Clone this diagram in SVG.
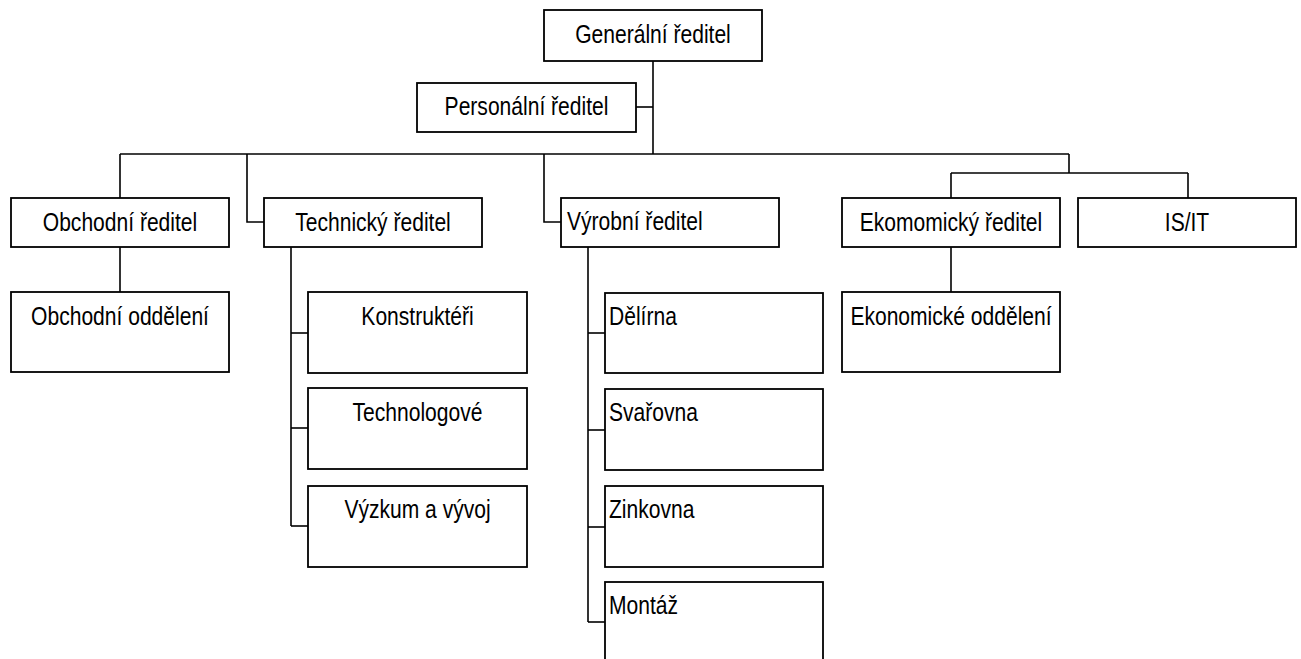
<svg xmlns="http://www.w3.org/2000/svg" width="1301" height="659" viewBox="0 0 1301 659">
  <style>
    .box { fill: #ffffff; stroke: #000000; stroke-width: 1.8; }
    .lbl { font-family: "Liberation Sans", Arial, sans-serif; font-size: 26px; fill: #000000; }
    .c { text-anchor: middle; }
    .l { text-anchor: start; }
    .wire { fill: none; stroke: #000000; stroke-width: 1.6; }
  </style>
  <rect width="1301" height="659" fill="#ffffff"/>

  <!-- connectors -->
  <g id="connectors" class="wire">
    <path d="M653 61 V154"/>
    <path d="M636 107 H653"/>
    <path d="M120 154 H1069"/>
    <path d="M120 154 V198"/>
    <path d="M247 154 V222 H264"/>
    <path d="M544 154 V222 H561"/>
    <path d="M1069 154 V173"/>
    <path d="M951 173 H1188"/>
    <path d="M951 173 V198"/>
    <path d="M1188 173 V198"/>
    <path d="M120 247 V292"/>
    <path d="M291 247 V526"/>
    <path d="M291 333 H308"/>
    <path d="M291 428 H308"/>
    <path d="M291 526 H308"/>
    <path d="M588 247 V622"/>
    <path d="M588 333 H605"/>
    <path d="M588 430 H605"/>
    <path d="M588 527 H605"/>
    <path d="M588 622 H605"/>
    <path d="M951 247 V292"/>
  </g>

  <!-- labels are set in a narrowed sans: x-scale 0.81 -->
  <g id="generalni">
    <rect class="box" x="544" y="10" width="218" height="51"/>
    <text class="lbl c" transform="translate(653 43) scale(0.81 1)">Generální ředitel</text>
  </g>
  <g id="personalni">
    <rect class="box" x="417" y="83" width="219" height="49"/>
    <text class="lbl c" transform="translate(526.5 115) scale(0.81 1)">Personální ředitel</text>
  </g>

  <g id="obchodni">
    <rect class="box" x="11" y="198" width="218" height="49"/>
    <text class="lbl c" transform="translate(120 231) scale(0.81 1)">Obchodní ředitel</text>
  </g>
  <g id="technicky">
    <rect class="box" x="264" y="198" width="218" height="49"/>
    <text class="lbl c" transform="translate(373 231) scale(0.81 1)">Technický ředitel</text>
  </g>
  <g id="vyrobni">
    <rect class="box" x="561" y="198" width="218" height="49"/>
    <text class="lbl l" transform="translate(567 230) scale(0.81 1)">Výrobní ředitel</text>
  </g>
  <g id="ekonomicky">
    <rect class="box" x="842" y="198" width="218" height="49"/>
    <text class="lbl c" transform="translate(951 231) scale(0.81 1)">Ekomomický ředitel</text>
  </g>
  <g id="isit">
    <rect class="box" x="1078" y="198" width="218" height="49"/>
    <text class="lbl c" transform="translate(1187 231) scale(0.81 1)">IS/IT</text>
  </g>

  <g id="obchodni-oddeleni">
    <rect class="box" x="11" y="292" width="218" height="80"/>
    <text class="lbl c" transform="translate(120 325) scale(0.81 1)">Obchodní oddělení</text>
  </g>

  <g id="konstrukteri">
    <rect class="box" x="308" y="292" width="219" height="81"/>
    <text class="lbl c" transform="translate(417.5 325) scale(0.81 1)">Konstruktéři</text>
  </g>
  <g id="technologove">
    <rect class="box" x="308" y="388" width="219" height="81"/>
    <text class="lbl c" transform="translate(417.5 421) scale(0.81 1)">Technologové</text>
  </g>
  <g id="vyzkum">
    <rect class="box" x="308" y="486" width="219" height="81"/>
    <text class="lbl c" transform="translate(417.5 518) scale(0.81 1)">Výzkum a vývoj</text>
  </g>

  <g id="delirna">
    <rect class="box" x="605" y="293" width="218" height="80"/>
    <text class="lbl l" transform="translate(609 325) scale(0.81 1)">Dělírna</text>
  </g>
  <g id="svarovna">
    <rect class="box" x="605" y="389" width="218" height="81"/>
    <text class="lbl l" transform="translate(609 421) scale(0.81 1)">Svařovna</text>
  </g>
  <g id="zinkovna">
    <rect class="box" x="605" y="486" width="218" height="81"/>
    <text class="lbl l" transform="translate(609 518) scale(0.81 1)">Zinkovna</text>
  </g>
  <g id="montaz">
    <rect class="box" x="605" y="582" width="218" height="81"/>
    <text class="lbl l" transform="translate(609 614) scale(0.81 1)">Montáž</text>
  </g>

  <g id="ekonomicke-oddeleni">
    <rect class="box" x="842" y="292" width="218" height="80"/>
    <text class="lbl c" transform="translate(951 325) scale(0.81 1)">Ekonomické oddělení</text>
  </g>
</svg>
